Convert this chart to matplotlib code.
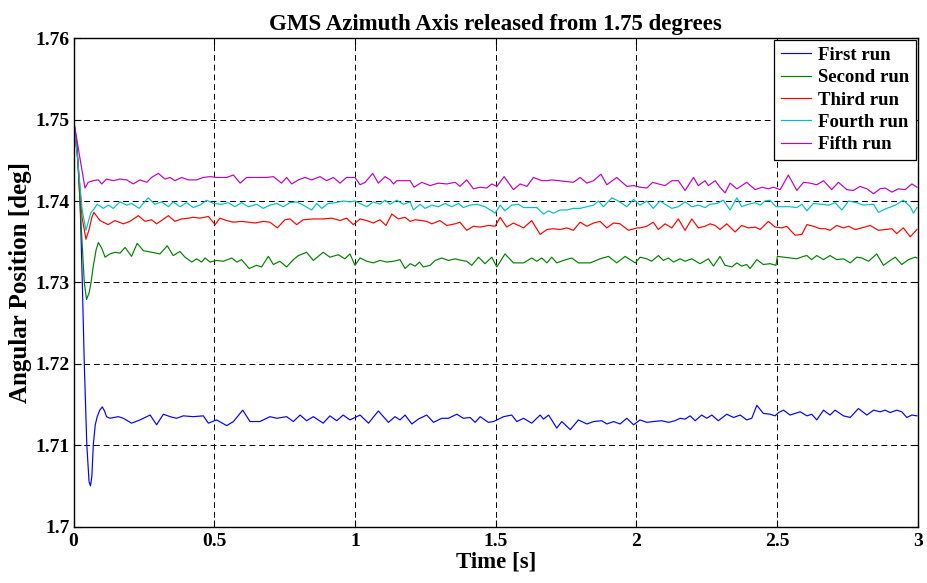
import matplotlib
matplotlib.use("Agg")
import matplotlib.pyplot as plt

# ---------------- data ----------------
first_t = [0, 0.012, 0.023, 0.031, 0.038, 0.047, 0.055, 0.060, 0.065, 0.070, 0.077, 0.084, 0.093, 0.102, 0.110, 0.117,
           0.129, 0.159, 0.177, 0.206, 0.236, 0.272, 0.295, 0.319, 0.343, 0.366, 0.390, 0.425, 0.461, 0.479, 0.508, 0.544,
           0.568, 0.601, 0.627, 0.662, 0.698, 0.722, 0.757, 0.781, 0.805, 0.828, 0.852, 0.887, 0.911, 0.935, 0.958, 0.982,
           1.018, 1.048, 1.083, 1.119, 1.142, 1.160, 1.178, 1.202, 1.225, 1.255, 1.279, 1.308, 1.332, 1.362, 1.385, 1.409,
           1.427, 1.445, 1.474, 1.492, 1.528, 1.557, 1.575, 1.599, 1.628, 1.658, 1.670, 1.688, 1.717, 1.735, 1.765, 1.794,
           1.824, 1.848, 1.877, 1.895, 1.919, 1.942, 1.966, 1.990,
           2.013, 2.037, 2.060, 2.090, 2.114, 2.137, 2.155, 2.173, 2.191, 2.209, 2.232, 2.250, 2.268, 2.291, 2.321, 2.345,
           2.369, 2.392, 2.410, 2.428, 2.451, 2.475, 2.493, 2.505, 2.523, 2.546, 2.582, 2.606, 2.623, 2.641, 2.665, 2.688,
           2.706, 2.736, 2.760, 2.789, 2.819, 2.843, 2.866, 2.884, 2.902, 2.925, 2.943, 2.961, 2.979, 2.997]
first_v = [1.750, 1.747, 1.740, 1.730, 1.720, 1.710, 1.7055, 1.7050, 1.7062, 1.7100, 1.7125, 1.7135, 1.7143, 1.7147, 1.7142, 1.7135,
           1.7133, 1.7135, 1.7133, 1.7127, 1.7131, 1.7137, 1.7125, 1.7138, 1.7135, 1.7133, 1.7136, 1.7135, 1.7136, 1.7127, 1.7131, 1.7124,
           1.7129, 1.7143, 1.7129, 1.7129, 1.7135, 1.7133, 1.7135, 1.7129, 1.7137, 1.7130, 1.7135, 1.7127, 1.7136, 1.7130, 1.7137, 1.7131,
           1.7137, 1.7127, 1.7142, 1.7128, 1.7135, 1.7131, 1.7137, 1.7126, 1.7132, 1.7137, 1.7128, 1.7133, 1.7133, 1.7138, 1.7133, 1.7134,
           1.7128, 1.7135, 1.7128, 1.7129, 1.7135, 1.7137, 1.7129, 1.7133, 1.7127, 1.7137, 1.7132, 1.7137, 1.7121, 1.7129, 1.7119, 1.7131,
           1.7126, 1.7129, 1.7130, 1.7126, 1.7129, 1.7126, 1.7133, 1.7125,
           1.7131, 1.7128, 1.7129, 1.7130, 1.7128, 1.7130, 1.7133, 1.7132, 1.7136, 1.7130, 1.7137, 1.7133, 1.7137, 1.7130, 1.7138, 1.7134,
           1.7137, 1.7131, 1.7133, 1.7149, 1.7139, 1.7138, 1.7136, 1.7140, 1.7143, 1.7137, 1.7141, 1.7136, 1.7138, 1.7131, 1.7143, 1.7137,
           1.7143, 1.7136, 1.7134, 1.7145, 1.7137, 1.7143, 1.7141, 1.7143, 1.7140, 1.7143, 1.7141, 1.7134, 1.7137, 1.7136]

second_t = [0, 0.015, 0.030, 0.038, 0.046, 0.055, 0.062, 0.070, 0.080, 0.088, 0.100, 0.112,
            0.129, 0.147, 0.165, 0.183, 0.206, 0.226, 0.248, 0.277, 0.307, 0.333, 0.354, 0.378, 0.396, 0.420, 0.437, 0.455,
            0.467, 0.485, 0.508, 0.532, 0.562, 0.580, 0.597, 0.624, 0.650, 0.668, 0.692, 0.710, 0.733, 0.757, 0.781, 0.799,
            0.828, 0.852, 0.887, 0.911, 0.941, 0.964, 0.982, 1.000,
            1.018, 1.042, 1.065, 1.089, 1.113, 1.137, 1.160, 1.178, 1.196, 1.214, 1.229, 1.243, 1.267, 1.285, 1.308, 1.332,
            1.356, 1.379, 1.397, 1.415, 1.439, 1.462, 1.486, 1.504, 1.533, 1.563, 1.599, 1.628, 1.646, 1.664, 1.682, 1.699,
            1.717, 1.741, 1.770, 1.794, 1.836, 1.871, 1.901, 1.930, 1.960, 1.996,
            2.013, 2.037, 2.054, 2.078, 2.096, 2.114, 2.132, 2.155, 2.173, 2.197, 2.226, 2.256, 2.274, 2.297, 2.315, 2.339,
            2.357, 2.374, 2.392, 2.404, 2.428, 2.451, 2.475, 2.496, 2.501, 2.523, 2.546, 2.570, 2.594, 2.606, 2.623, 2.641,
            2.665, 2.688, 2.712, 2.736, 2.760, 2.783, 2.801, 2.825, 2.854, 2.878, 2.902, 2.920, 2.943, 2.967, 2.991, 2.997]
second_v = [1.750, 1.745, 1.735, 1.730, 1.7279, 1.7287, 1.7300, 1.7320, 1.7340, 1.7349, 1.7342, 1.7331,
            1.7335, 1.7337, 1.7336, 1.7343, 1.7332, 1.7348, 1.7339, 1.7337, 1.7335, 1.7345, 1.7333, 1.7338, 1.7331, 1.7325, 1.7329, 1.7325,
            1.7330, 1.7325, 1.7327, 1.7326, 1.7330, 1.7325, 1.7328, 1.7317, 1.7321, 1.7319, 1.7332, 1.7322, 1.7326, 1.7319, 1.7328, 1.7333,
            1.7337, 1.7327, 1.7337, 1.7331, 1.7334, 1.7329, 1.7335, 1.7321,
            1.7330, 1.7326, 1.7324, 1.7327, 1.7325, 1.7326, 1.7328, 1.7317, 1.7323, 1.7320, 1.7325, 1.7319, 1.7321, 1.7327, 1.7330, 1.7327,
            1.7329, 1.7327, 1.7326, 1.7321, 1.7331, 1.7323, 1.7331, 1.7319, 1.7335, 1.7324, 1.7324, 1.7330, 1.7326, 1.7330, 1.7324, 1.7331,
            1.7324, 1.7327, 1.7330, 1.7324, 1.7324, 1.7329, 1.7332, 1.7324, 1.7332, 1.7324,
            1.7331, 1.7329, 1.7326, 1.7333, 1.7327, 1.7330, 1.7325, 1.7329, 1.7326, 1.7329, 1.7323, 1.7329, 1.7320, 1.7332, 1.7321, 1.7319,
            1.7324, 1.7320, 1.7322, 1.7317, 1.7328, 1.7322, 1.7323, 1.7321, 1.7332, 1.7331, 1.7330, 1.7329, 1.7332, 1.7333, 1.7328, 1.7333,
            1.7328, 1.7333, 1.7328, 1.7329, 1.7324, 1.7331, 1.7330, 1.7326, 1.7335, 1.7321, 1.7327, 1.7331, 1.7322, 1.7328, 1.7331, 1.7330]

third_t = [0, 0.015, 0.030, 0.044, 0.055, 0.065, 0.072,
           0.094, 0.123, 0.147, 0.177, 0.200, 0.230, 0.254, 0.277, 0.295, 0.337, 0.360, 0.384, 0.408, 0.425, 0.449, 0.479,
           0.503, 0.520, 0.544, 0.568, 0.597, 0.621, 0.645, 0.674, 0.698, 0.724, 0.751, 0.769, 0.793, 0.816, 0.852, 0.887,
           0.917, 0.947, 0.970, 0.994,
           1.018, 1.042, 1.065, 1.089, 1.110, 1.131, 1.154, 1.178, 1.196, 1.214, 1.237, 1.255, 1.273, 1.302, 1.326, 1.356,
           1.373, 1.397, 1.421, 1.445, 1.474, 1.498, 1.516, 1.539, 1.563, 1.599, 1.628, 1.658, 1.682, 1.705, 1.729, 1.753,
           1.776, 1.800, 1.824, 1.848, 1.871, 1.895, 1.919, 1.942, 1.972, 2.002,
           2.013, 2.037, 2.060, 2.078, 2.102, 2.126, 2.149, 2.173, 2.197, 2.220, 2.244, 2.262, 2.280, 2.297, 2.321, 2.351,
           2.374, 2.398, 2.422, 2.440, 2.469, 2.493, 2.517, 2.534, 2.564, 2.588, 2.606, 2.629, 2.653, 2.671, 2.688, 2.712,
           2.736, 2.754, 2.777, 2.801, 2.831, 2.860, 2.884, 2.908, 2.925, 2.949, 2.973, 2.997]
third_v = [1.750, 1.745, 1.738, 1.7353, 1.7365, 1.7380, 1.7386,
           1.7376, 1.7371, 1.7376, 1.7372, 1.7375, 1.7382, 1.7375, 1.7377, 1.7372, 1.7382, 1.7375, 1.7378, 1.7379, 1.7380, 1.7379, 1.7381,
           1.7371, 1.7379, 1.7376, 1.7374, 1.7375, 1.7374, 1.7373, 1.7375, 1.7374, 1.7367, 1.7377, 1.7378, 1.7371, 1.7377, 1.7378, 1.7378,
           1.7379, 1.7376, 1.7379, 1.7371,
           1.7378, 1.7376, 1.7373, 1.7377, 1.7370, 1.7384, 1.7378, 1.7380, 1.7375, 1.7377, 1.7376, 1.7375, 1.7372, 1.7376, 1.7370, 1.7372,
           1.7374, 1.7364, 1.7369, 1.7368, 1.7370, 1.7369, 1.7380, 1.7368, 1.7373, 1.7367, 1.7376, 1.7359, 1.7365, 1.7366, 1.7365, 1.7367,
           1.7364, 1.7374, 1.7369, 1.7373, 1.7375, 1.7367, 1.7373, 1.7372, 1.7364, 1.7367,
           1.7367, 1.7369, 1.7374, 1.7365, 1.7372, 1.7367, 1.7378, 1.7364, 1.7378, 1.7367, 1.7369, 1.7372, 1.7370, 1.7365, 1.7372, 1.7362,
           1.7370, 1.7367, 1.7368, 1.7365, 1.7375, 1.7368, 1.7367, 1.7369, 1.7358, 1.7359, 1.7371, 1.7369, 1.7366, 1.7366, 1.7364, 1.7370,
           1.7367, 1.7369, 1.7365, 1.7367, 1.7370, 1.7364, 1.7365, 1.7366, 1.7360, 1.7367, 1.7356, 1.7365]

fourth_t = [0, 0.015, 0.030, 0.044, 0.055, 0.062, 0.070,
            0.084, 0.106, 0.123, 0.141, 0.165, 0.189, 0.206, 0.233, 0.265, 0.289, 0.313, 0.337, 0.354, 0.378, 0.402, 0.425,
            0.449, 0.473, 0.497, 0.526, 0.550, 0.573, 0.597, 0.621, 0.651, 0.674, 0.698, 0.722, 0.745, 0.769, 0.793, 0.816,
            0.846, 0.864, 0.882, 0.905, 0.929, 0.959, 0.982, 1.000,
            1.018, 1.042, 1.065, 1.089, 1.107, 1.125, 1.148, 1.172, 1.196, 1.208, 1.231, 1.249, 1.273, 1.296, 1.320, 1.344,
            1.368, 1.385, 1.409, 1.433, 1.462, 1.486, 1.498, 1.516, 1.533, 1.557, 1.581, 1.599, 1.616, 1.646, 1.670, 1.688,
            1.705, 1.729, 1.753, 1.776, 1.800, 1.824, 1.848, 1.865, 1.883, 1.913, 1.936, 1.966, 1.990,
            2.013, 2.037, 2.060, 2.084, 2.102, 2.126, 2.149, 2.173, 2.197, 2.220, 2.244, 2.262, 2.286, 2.309, 2.333, 2.357,
            2.374, 2.398, 2.422, 2.440, 2.457, 2.475, 2.496, 2.523, 2.546, 2.570, 2.588, 2.606, 2.629, 2.659, 2.683, 2.706,
            2.730, 2.754, 2.783, 2.807, 2.843, 2.860, 2.890, 2.920, 2.949, 2.973, 2.985, 2.997]
fourth_v = [1.750, 1.745, 1.739, 1.7364, 1.7378, 1.7386, 1.7389,
            1.7396, 1.7391, 1.7395, 1.7391, 1.7399, 1.7395, 1.7397, 1.7391, 1.7404, 1.7396, 1.7399, 1.7393, 1.7399, 1.7393, 1.7398, 1.7392,
            1.7395, 1.7401, 1.7397, 1.7396, 1.7398, 1.7393, 1.7398, 1.7393, 1.7396, 1.7391, 1.7395, 1.7397, 1.7393, 1.7398, 1.7399, 1.7395,
            1.7389, 1.7397, 1.7391, 1.7397, 1.7398, 1.7400, 1.7399, 1.7400,
            1.7397, 1.7393, 1.7399, 1.7396, 1.7401, 1.7396, 1.7401, 1.7396, 1.7399, 1.7389, 1.7396, 1.7391, 1.7395, 1.7393, 1.7397, 1.7393,
            1.7397, 1.7392, 1.7395, 1.7396, 1.7393, 1.7388, 1.7385, 1.7395, 1.7388, 1.7395, 1.7396, 1.7392, 1.7392, 1.7392, 1.7384, 1.7388,
            1.7385, 1.7389, 1.7389, 1.7391, 1.7391, 1.7393, 1.7395, 1.7400, 1.7393, 1.7404, 1.7400, 1.7393, 1.7402,
            1.7395, 1.7400, 1.7391, 1.7400, 1.7396, 1.7391, 1.7393, 1.7399, 1.7393, 1.7395, 1.7392, 1.7396, 1.7397, 1.7401, 1.7389, 1.7404,
            1.7393, 1.7396, 1.7398, 1.7395, 1.7400, 1.7401, 1.7393, 1.7393, 1.7393, 1.7392, 1.7396, 1.7388, 1.7397, 1.7396, 1.7395, 1.7398,
            1.7389, 1.7400, 1.7398, 1.7395, 1.7396, 1.7386, 1.7391, 1.7395, 1.7401, 1.7393, 1.7385, 1.7392]

fifth_t = [0, 0.020, 0.0405, 0.052,
           0.070, 0.088, 0.100, 0.117, 0.141, 0.165, 0.189, 0.212, 0.236, 0.260, 0.277, 0.301, 0.325, 0.343, 0.360, 0.384,
           0.408, 0.437, 0.461, 0.485, 0.508, 0.544, 0.568, 0.592, 0.615, 0.651, 0.686, 0.710, 0.739, 0.757, 0.775, 0.799,
           0.822, 0.846, 0.876, 0.899, 0.923, 0.947, 0.970, 1.000,
           1.018, 1.036, 1.063, 1.083, 1.107, 1.125, 1.137, 1.148, 1.196, 1.210, 1.237, 1.267, 1.296, 1.326, 1.356, 1.373,
           1.397, 1.421, 1.445, 1.468, 1.486, 1.504, 1.530, 1.563, 1.587, 1.611, 1.634, 1.664, 1.682, 1.699, 1.776, 1.800,
           1.824, 1.848, 1.874, 1.895, 1.930, 1.966, 1.990,
           2.013, 2.037, 2.058, 2.078, 2.102, 2.126, 2.149, 2.173, 2.203, 2.220, 2.244, 2.256, 2.280, 2.297, 2.315, 2.333,
           2.357, 2.392, 2.422, 2.446, 2.469, 2.487, 2.511, 2.540, 2.570, 2.594, 2.617, 2.641, 2.665, 2.694, 2.718, 2.748,
           2.771, 2.795, 2.819, 2.843, 2.866, 2.884, 2.908, 2.931, 2.955, 2.979, 2.997]
fifth_v = [1.750, 1.7458, 1.7416, 1.7423,
           1.7425, 1.7426, 1.7421, 1.7427, 1.7425, 1.7427, 1.7426, 1.7421, 1.7426, 1.7423, 1.7429, 1.7434, 1.7427, 1.7429, 1.7425, 1.7429,
           1.7426, 1.7426, 1.7429, 1.7430, 1.7429, 1.7429, 1.7432, 1.7422, 1.7429, 1.7429, 1.7429, 1.7430, 1.7422, 1.7429, 1.7421, 1.7426,
           1.7429, 1.7426, 1.7430, 1.7425, 1.7429, 1.7422, 1.7429, 1.7429,
           1.7420, 1.7423, 1.7434, 1.7422, 1.7430, 1.7426, 1.7421, 1.7425, 1.7425, 1.7417, 1.7423, 1.7419, 1.7422, 1.7421, 1.7423, 1.7418,
           1.7426, 1.7415, 1.7417, 1.7416, 1.7421, 1.7418, 1.7430, 1.7414, 1.7421, 1.7418, 1.7429, 1.7425, 1.7425, 1.7426, 1.7423, 1.7429,
           1.7422, 1.7425, 1.7433, 1.7420, 1.7429, 1.7418, 1.7419,
           1.7417, 1.7416, 1.7423, 1.7421, 1.7419, 1.7425, 1.7425, 1.7413, 1.7429, 1.7419, 1.7425, 1.7419, 1.7425, 1.7417, 1.7410, 1.7422,
           1.7415, 1.7423, 1.7414, 1.7417, 1.7415, 1.7417, 1.7414, 1.7432, 1.7413, 1.7423, 1.7422, 1.7420, 1.7425, 1.7414, 1.7423, 1.7414,
           1.7413, 1.7418, 1.7415, 1.7409, 1.7415, 1.7416, 1.7411, 1.7415, 1.7414, 1.7421, 1.7417]

series_names = ["First run", "Second run", "Third run", "Fourth run", "Fifth run"]
x_ticks = [0, 0.5, 1, 1.5, 2, 2.5, 3]
x_tick_labels = ["0", "0.5", "1", "1.5", "2", "2.5", "3"]
y_ticks = [1.70, 1.71, 1.72, 1.73, 1.74, 1.75, 1.76]
y_tick_labels = ["1.7", "1.71", "1.72", "1.73", "1.74", "1.75", "1.76"]
title = "GMS Azimuth Axis released from 1.75 degrees"
x_label = "Time [s]"
y_label = "Angular Position [deg]"

# ---------------- style ----------------
colors = ["#0000ff", "#008000", "#ff0000", "#00bfbf", "#bf00bf"]
serif = ["Liberation Serif", "DejaVu Serif"]

fig = plt.figure(figsize=(9.28, 5.83), dpi=100)
ax = fig.add_axes([0.0793, 0.0969, 0.9097, 0.8374])

data = [(first_t, first_v), (second_t, second_v), (third_t, third_v),
        (fourth_t, fourth_v), (fifth_t, fifth_v)]
for (t, v), name, c in zip(data, series_names, colors):
    ax.plot(t, v, color=c, lw=0.85, label=name)

ax.set_xlim(0, 3)
ax.set_ylim(1.70, 1.76)
ax.set_xticks(x_ticks)
ax.set_xticklabels(x_tick_labels)
ax.set_yticks(y_ticks)
ax.set_yticklabels(y_tick_labels)
for lab in ax.get_xticklabels() + ax.get_yticklabels():
    lab.set_fontfamily(serif)
    lab.set_fontweight("bold")
    lab.set_fontsize(14)

ax.tick_params(axis="x", direction="in", length=5, width=0.8, top=True, pad=5)
ax.tick_params(axis="y", direction="in", length=5, width=0.8, right=True, pad=3)
ax.grid(True, color="black", linestyle=(0, (6, 4)), linewidth=0.7)
for s in ax.spines.values():
    s.set_linewidth(1.0)
    s.set_color("black")

ax.set_title(title, fontfamily=serif, fontweight="bold", fontsize=16.5, pad=6)
ax.set_xlabel(x_label, fontfamily=serif, fontweight="bold", fontsize=16.5, labelpad=1)
ax.set_ylabel(y_label, fontfamily=serif, fontweight="bold", fontsize=18, labelpad=2)

leg = ax.legend(loc="upper right", prop={"family": serif, "weight": "bold", "size": 13.5},
                frameon=True, fancybox=False, edgecolor="black", framealpha=1,
                handlelength=1.6, handletextpad=0.4, borderpad=0.35, labelspacing=0.28,
                borderaxespad=0.1)
leg.get_frame().set_linewidth(0.9)

fig.savefig("out.png", dpi=100)
